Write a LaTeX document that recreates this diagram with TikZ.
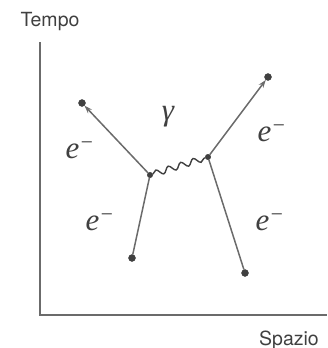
\documentclass[tikz,border=0pt]{standalone}
\usepackage{fontspec}
\setsansfont{TeX Gyre Heros}
\newfontfamily\lblfont{Liberation Serif}
\usetikzlibrary{arrows.meta}
\usetikzlibrary{decorations.pathmorphing}
\definecolor{linegray}{gray}{0.42}
\definecolor{textgray}{gray}{0.25}
\tikzset{
    axislabel/.style={textgray,font=\sffamily\fontsize{19.5}{22}\selectfont},
    particle/.style={textgray,font=\lblfont\itshape\fontsize{31}{34}\selectfont},
    enddot/.style={shape=circle,draw=textgray,fill=textgray,inner sep=0pt,minimum size=7pt},
    vertexdot/.style={shape=circle,draw=textgray,fill=textgray,inner sep=0pt,minimum size=5.5pt},
    fermion/.style={line width=1.5pt,linegray}
}

\begin{document}
\begin{tikzpicture}[x=1pt,y=-1pt]
    \useasboundingbox (0,0) rectangle (327,348);
    \node[axislabel] (tempo) at (50,22) {Tempo};
    \node[axislabel] (spazio) at (289,340) {Spazio};
    \coordinate (o) at (40,315);
    \coordinate (ytop) at (40,42);
    \coordinate (xend) at (327,315);
    \draw[linegray,line width=1.3pt] (ytop) -- (o) -- (xend);

    \node[enddot] (1) at (132,258) {};
    \node[enddot] (2) at (82,103) {};
    \node[vertexdot] (3) at (150,175) {};
    \node[enddot] (4) at (245,273) {};
    \node[enddot] (5) at (268,77) {};
    \node[vertexdot] (6) at (208,157) {};

    \node[particle] at (80,150) {e\textsuperscript{−}};
    \node[particle] at (100,222) {e\textsuperscript{−}};
    \node[particle] at (272,133) {e\textsuperscript{−}};
    \node[particle] at (270,222) {e\textsuperscript{−}};
    \node[particle] at (168,117) {γ};

    \path [-,fermion](1) edge (3);
    \path [-{Stealth[length=8pt,width=5.5pt]},fermion](3) edge (2);
    \path [-,fermion](4) edge (6);
    \path [-{Stealth[length=8pt,width=5.5pt]},fermion](6) edge (5);
    \draw[line width=1.4pt,textgray,decorate,decoration={snake,segment length=13pt,amplitude=3pt}] (3) -- (6);
\end{tikzpicture}
\end{document}
